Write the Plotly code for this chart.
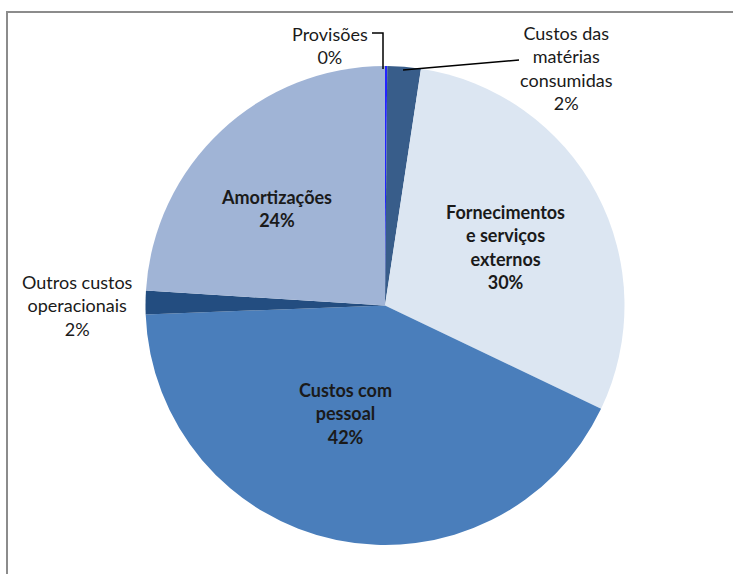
import plotly.graph_objects as go

# ---- data ----
categories = ["Provisões", "Custos das matérias consumidas", "Fornecimentos e serviços externos",
              "Custos com pessoal", "Outros custos operacionais", "Amortizações"]
label_lines = ["Provisões", "Custos das<br>matérias<br>consumidas", "Fornecimentos<br>e serviços<br>externos",
               "Custos com<br>pessoal", "Outros custos<br>operacionais", "Amortizações"]
values = [0.15, 2.25, 29.7, 42.3, 1.6, 24.0]
colors = ["#2424ff", "#385d8a", "#dce6f2", "#4a7ebb", "#234d80", "#a0b4d6"]
inside = [False, False, True, True, False, True]

W, H = 733, 574
def px(x): return x / W
def py(y): return 1 - y / H

total = sum(values)
pcts = [round(v / total * 100) for v in values]

fig = go.Figure(go.Pie(
    labels=categories, values=values, sort=False, direction="clockwise", rotation=0,
    marker=dict(colors=colors, line=dict(width=0)),
    textinfo="none", hoverinfo="label+percent", showlegend=False,
    domain=dict(x=[px(144), px(626)], y=[py(545), py(66)]),
))

# label positions (pixel centres of text blocks)
label_pos = [(330, 45), (566, 68), (505, 247), (345, 413), (77, 306), (276, 208)]
font = "Lato, 'Open Sans', sans-serif"
annotations = []
for lab, p, ins, (x, y) in zip(label_lines, pcts, inside, label_pos):
    txt = f"{lab}<br>{p}%"
    if ins:
        txt = f"<b>{txt}</b>"
    annotations.append(dict(x=px(x), y=py(y), xref="paper", yref="paper", text=txt,
                            showarrow=False, xanchor="center", yanchor="middle", align="center",
                            font=dict(family=font, size=18, color="#1a1a1a")))

shapes = [
    # chart frame: left edge and top edge
    dict(type="line", xref="paper", yref="paper", x0=px(7), y0=0, x1=px(7), y1=py(11),
         line=dict(color="#8c8c8c", width=2)),
    dict(type="line", xref="paper", yref="paper", x0=px(6), y0=py(12), x1=1, y1=py(12),
         line=dict(color="#8c8c8c", width=2)),
    # leader lines
    dict(type="path", xref="paper", yref="paper",
         path=f"M {px(372)} {py(33)} L {px(383)} {py(33)} L {px(383)} {py(69)}",
         line=dict(color="#000000", width=1.5)),
    dict(type="line", xref="paper", yref="paper", x0=px(519), y0=py(60), x1=px(403), y1=py(70),
         line=dict(color="#000000", width=1.5)),
]

fig.update_layout(width=W, height=H, margin=dict(l=0, r=0, t=0, b=0),
                  paper_bgcolor="white", plot_bgcolor="white",
                  annotations=annotations, shapes=shapes)
fig.write_html("out.html", config={"displayModeBar": False},
               post_script="document.body.style.margin='0';document.body.style.overflow='hidden';")
